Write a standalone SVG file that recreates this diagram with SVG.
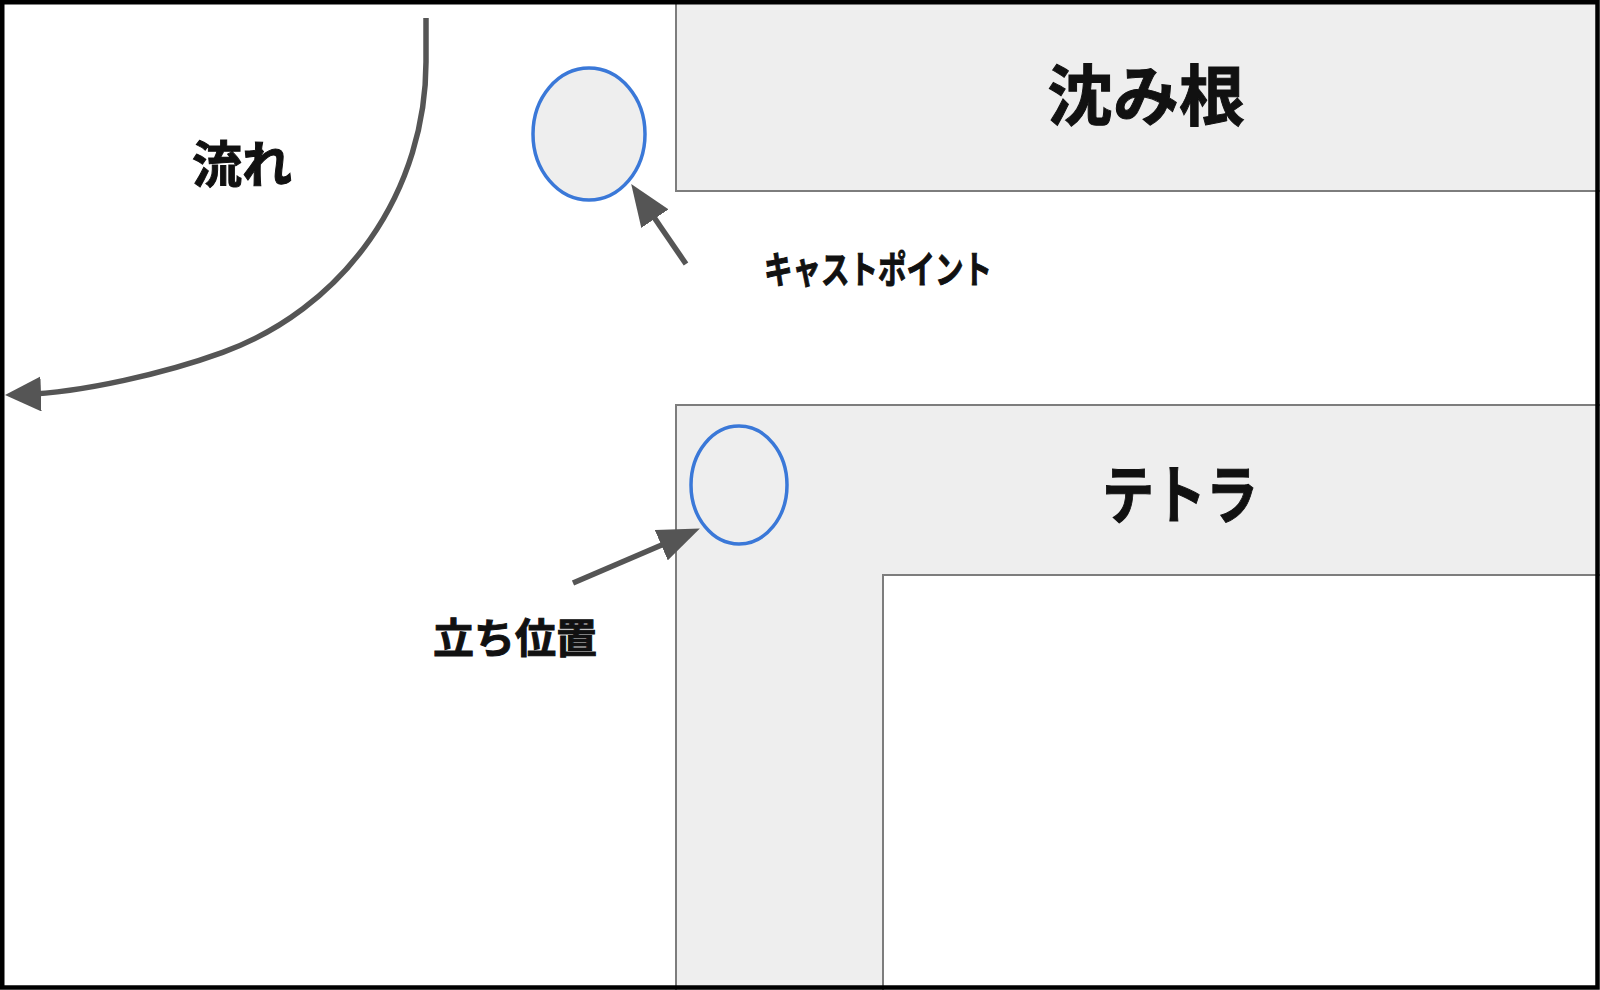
<svg xmlns="http://www.w3.org/2000/svg" width="1600" height="990" viewBox="0 0 1600 990">
  <style>
    .box { fill: #eeeeee; stroke: #7d7d7d; stroke-width: 2; }
    .inner { fill: #ffffff; stroke: #7d7d7d; stroke-width: 2; }
    .spot { stroke: #3a78d8; stroke-width: 3.5; }
    .lbl { font-family: "Noto Sans CJK JP", "Noto Sans CJK SC", sans-serif; font-weight: 700; fill: #111111; stroke: #111111; stroke-width: 1; text-anchor: middle; dominant-baseline: central; }
    .conn { fill: none; stroke: #555555; stroke-width: 5.5; }
  </style>
  <defs>
    <marker id="head" markerUnits="userSpaceOnUse" markerWidth="42" markerHeight="33" viewBox="0 0 42 33" refX="22" refY="16.5" orient="auto">
      <path d="M0,0 L42,16.5 L0,33 Z" fill="#555555"/>
    </marker>
    <marker id="head2" markerUnits="userSpaceOnUse" markerWidth="36" markerHeight="35" viewBox="0 0 36 35" refX="18" refY="17.5" orient="auto">
      <path d="M0,0 L36,17.5 L0,35 Z" fill="#555555"/>
    </marker>
  </defs>

  <rect x="0" y="0" width="1600" height="990" fill="#ffffff"/>

  <g id="node-shizumine">
    <rect class="box" x="676" y="-2" width="940" height="193"/>
    <text class="lbl" x="1146" y="91" font-size="66">沈み根</text>
  </g>

  <g id="node-tetra">
    <rect class="box" x="676" y="405" width="940" height="600"/>
    <rect class="inner" x="883" y="575" width="740" height="430"/>
    <text class="lbl" x="1180" y="490" font-size="64" textLength="156" lengthAdjust="spacingAndGlyphs">テトラ</text>
  </g>

  <g id="node-castpoint">
    <ellipse class="spot" cx="589" cy="134" rx="56" ry="66" fill="#eeeeee"/>
    <text class="lbl" x="878" y="266" font-size="38" textLength="228" lengthAdjust="spacingAndGlyphs">キャストポイント</text>
  </g>

  <g id="node-standing">
    <ellipse class="spot" cx="739" cy="485" rx="48" ry="59" fill="none"/>
    <text class="lbl" x="515" y="635" font-size="41">立ち位置</text>
  </g>

  <g id="node-flow">
    <text class="lbl" x="242" y="161" font-size="50">流れ</text>
  </g>

  <g id="connectors">
    <path class="conn" d="M426,18 L426,62 A309,309 0 0 1 222.7,352.4 C166.3,372.9 83,392.5 23,394.5" marker-end="url(#head2)"/>
    <path class="conn" d="M686,264 L642.5,200.5" marker-end="url(#head)"/>
    <path class="conn" d="M573,583 L681.5,536.5" marker-end="url(#head)"/>
  </g>

  <rect x="2.25" y="2.25" width="1595.25" height="985.25" fill="none" stroke="#000000" stroke-width="4.5"/>
</svg>
